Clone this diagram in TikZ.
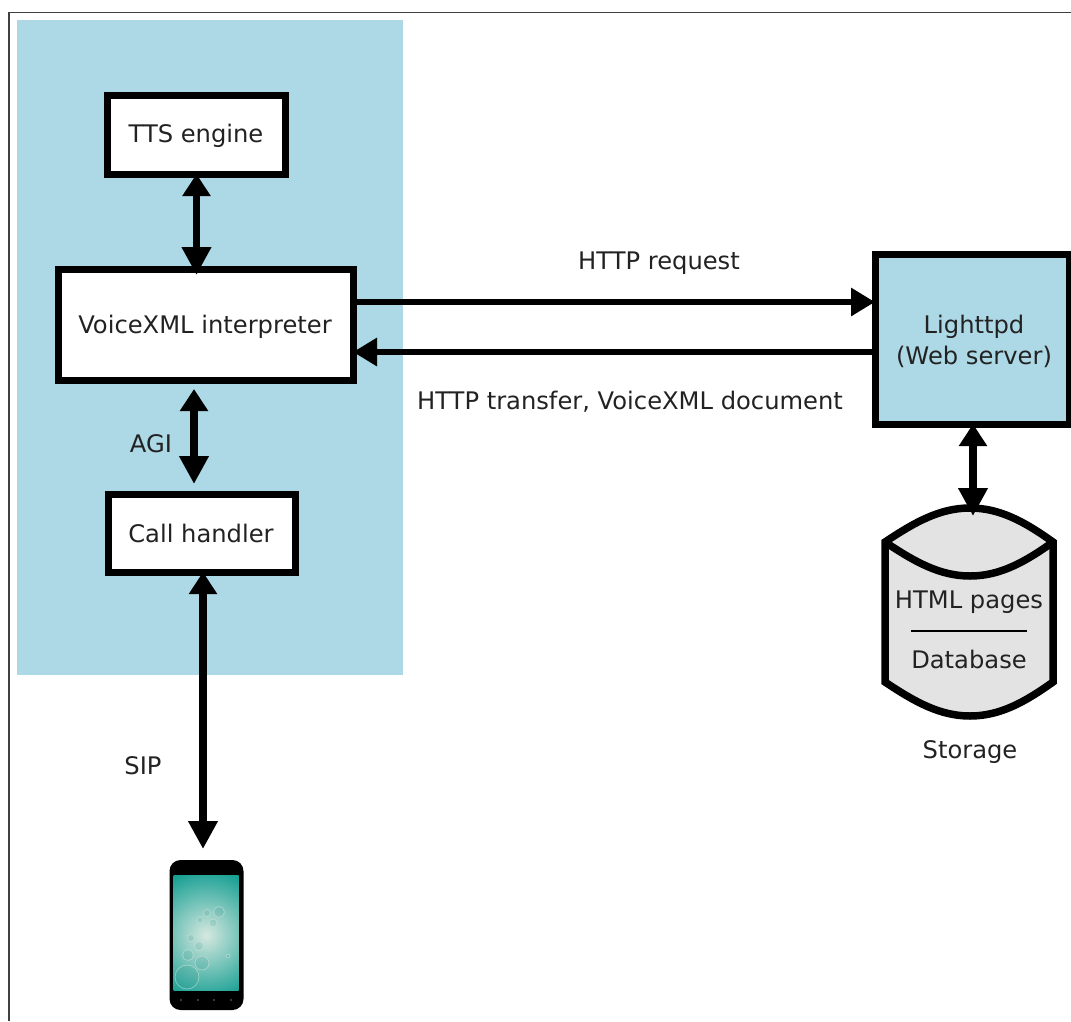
\documentclass[tikz,border=0pt]{standalone}
\usepackage{fontspec}
\setmainfont{DejaVu Sans}
\usetikzlibrary{arrows.meta,calc}
\definecolor{lblue}{HTML}{ADD8E6}
\definecolor{txt}{HTML}{222222}
\definecolor{cylfill}{HTML}{E3E3E3}
\definecolor{teal1}{HTML}{0F9C90}
\definecolor{teal2}{HTML}{D5E8DF}
\definecolor{bub}{HTML}{2E8F88}
\tikzset{
  every node/.style={font=\fontsize{24.2}{31}\selectfont,text=txt,inner sep=0pt,outer sep=0pt,align=center},
  boxnode/.style={draw=black,line width=7pt,fill=white},
  conn/.style={line width=7.5pt,draw=black},
  both/.style={conn,{Triangle[length=22pt,width=27pt]}-{Triangle[length=28pt,width=28pt]}},
  single/.style={line width=6.5pt,draw=black,-{Triangle[length=24pt,width=27pt]}},
  bubble/.style={draw=teal2,line width=.8pt,fill=bub,fill opacity=.14,draw opacity=.5},
}
\begin{document}
\begin{tikzpicture}[x=1pt,y=-1pt]
\useasboundingbox (0,0) rectangle (1071,1021);
\fill[white] (0,0) rectangle (1071,1021);
\draw[line width=1.3pt,draw=black!75] (9,1021) -- (9,12.5) -- (1071,12.5);
\fill[lblue] (17,20) rectangle (403,675);

\node[boxnode,minimum width=177.5pt,minimum height=79pt] (tts) at (196.5,134.5) {};
\node at (196,136) {TTS engine};
\node[boxnode,minimum width=295pt,minimum height=111pt] (vxml) at (205.5,324.5) {};
\node at (205,327) {VoiceXML interpreter};
\node[boxnode,minimum width=187pt,minimum height=78pt] (call) at (201.5,533) {};
\node at (201,533.5) {Call handler};
\node[boxnode,fill=lblue,minimum width=194pt,minimum height=170pt] (web) at (972,339) {};
\node at (974,341) {Lighttpd\\(Web server)};

% storage
\coordinate (cyltop) at (970,508);
\path[fill=cylfill,draw=black,line width=7.5pt,line join=miter]
  (885,542) .. controls (915,522) and (940,508) .. (cyltop)
  .. controls (1000,508) and (1025,522) .. (1053,542)
  -- (1053,682) .. controls (1025,702) and (1000,716) .. (970,716)
  .. controls (940,716) and (915,702) .. (885,682) -- cycle;
\draw[line width=7.5pt] (885,542) .. controls (915,562) and (940,576) .. (970,576)
  .. controls (1000,576) and (1025,562) .. (1053,542);
\node (html) at (969,602) {HTML pages};
\node (db) at (969,659) {Database};
\coordinate (sepl) at (911,631);
\coordinate (sepr) at (1027,631);
\draw[line width=2.8pt] (sepl) -- (sepr);
\node (stor) at (970,752) {Storage};

% phone
\node[fill=black,rounded corners=11pt,minimum width=74pt,minimum height=150pt] (phone) at (206.5,935) {};
\begin{scope}
\clip (173.5,875.5) rectangle (238.5,990);
\shade[inner color=teal2,outer color=teal1] (206,935) circle (69pt);
\foreach \px/\py/\pr in {187/977/12, 202/963/7, 188/955/5.5, 199/946/4.5, 191/938/3.5, 219/912/5.5, 213/923/4, 207/913/3.5, 200/920/3, 228/956/2}{
  \draw[bubble] (\px,\py) circle (\pr pt);
}
\end{scope}
\foreach \px in {181,198,214,231}{\fill[black!70] (\px,1000) circle (1.2pt);}

% connectors
\draw[both,shorten >=-6pt] (tts.south) -- (tts.south |- vxml.north);
\coordinate (agix) at (194,0);
\draw[both,shorten <=9pt,shorten >=10pt] (agix |- vxml.south) -- (agix |- call.north);
\coordinate (sipx) at (203,0);
\coordinate (phonetop) at (sipx |- phone.north);
\draw[both,shorten >=11pt] (sipx |- call.south) -- (phonetop);
\draw[single] (vxml.east |- 0,302) -- (web.west |- 0,302);
\draw[single] (web.west |- 0,352) -- (vxml.east |- 0,352);
\coordinate (storx) at (973,0);
\draw[both,shorten >=-8pt] (storx |- web.south) -- (storx |- cyltop);

% labels
\node (lreq) at (659,263) {HTTP request};
\node (ltrans) at (630,402) {HTTP transfer, VoiceXML document};
\node (lagi) at (151,444) {AGI};
\node (lsip) at (143,766) {SIP};
\end{tikzpicture}
\end{document}
